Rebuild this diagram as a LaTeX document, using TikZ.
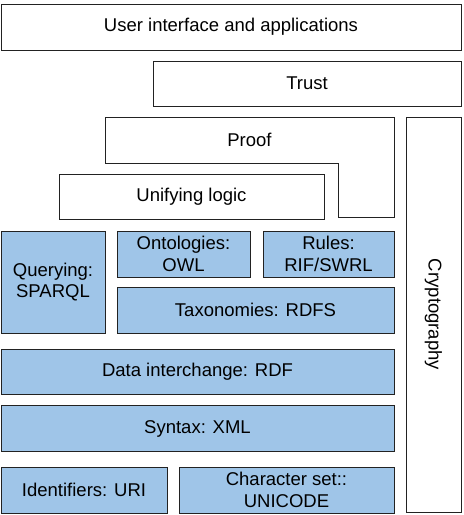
\documentclass[tikz,border=0pt]{standalone}
\usepackage{fontspec}
\setmainfont{Liberation Sans}
\definecolor{layerblue}{HTML}{9FC5E8}
\definecolor{edge}{HTML}{222222}
\tikzset{
 layer/.style={draw=edge,line width=1pt,inner sep=0pt,align=center,
  font=\fontsize{18.5}{21.5}\selectfont},
 semlayer/.style={layer,fill=layerblue}
}
\begin{document}
\begin{tikzpicture}[x=1pt,y=-1pt]
 \useasboundingbox (0,0) rectangle (464,515);
 \node[layer,minimum width=460pt,minimum height=46pt](ui) at (231,27){User interface and applications};
 \node[layer,minimum width=308pt,minimum height=45pt](trust) at (307,83.5){Trust};
 \draw[draw=edge,line width=1pt](105,117)--(394,117)--(394,217)--(338,217)--(338,163)--(105,163)--cycle;
 \node[font=\fontsize{18.5}{21.5}\selectfont](proof) at (249.5,140){Proof};
 \node[layer,minimum width=55pt,minimum height=395pt](crypto) at (433.5,314.5){};
 \node[font=\fontsize{18.5}{21.5}\selectfont,rotate=-90](cryptotext) at (crypto.center){Cryptography};
 \node[layer,minimum width=265pt,minimum height=45pt](unify) at (191.5,196.5){Unifying logic};
 \node[semlayer,minimum width=104pt,minimum height=102pt](query) at (53,282){Querying:\\SPARQL};
 \node[semlayer,minimum width=133pt,minimum height=46pt](onto) at (183.5,254){Ontologies:\\OWL};
 \node[semlayer,minimum width=131pt,minimum height=46pt](rules) at (328.5,254){Rules:\\RIF/SWRL};
 \node[semlayer,minimum width=277pt,minimum height=46pt](tax) at (255.5,310){Taxonomies: RDFS};
 \node[semlayer,minimum width=393pt,minimum height=45pt](rdf) at (197.5,371.5){Data interchange: RDF};
 \node[semlayer,minimum width=393pt,minimum height=46pt](xml) at (197.5,428.5){Syntax: XML};
 \node[semlayer,minimum width=166pt,minimum height=46pt](uri) at (84,490){Identifiers: URI};
 \node[semlayer,minimum width=215pt,minimum height=46pt](unicode) at (286.5,490){Character set::\\UNICODE};
\end{tikzpicture}
\end{document}
